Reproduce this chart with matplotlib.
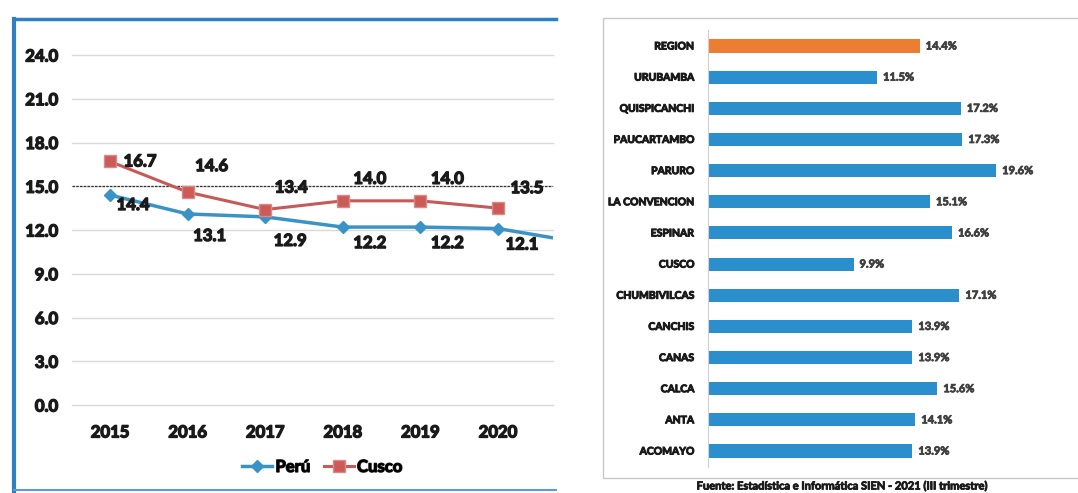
import matplotlib
matplotlib.use("Agg")
import matplotlib.pyplot as plt
import matplotlib.patheffects as pe
from matplotlib.lines import Line2D
from matplotlib.patches import Rectangle

plt.rcParams['font.family'] = ['Lato', 'DejaVu Sans']

# left panel: anemia / desnutricion series
years = [2015, 2016, 2017, 2018, 2019, 2020, 2021]
peru = [14.4, 13.1, 12.9, 12.2, 12.2, 12.1, 11.2]
cusco = [16.7, 14.6, 13.4, 14.0, 14.0, 13.5]
yticks = [0, 3, 6, 9, 12, 15, 18, 21, 24]

# right panel: provinces
provincias = ["REGION", "URUBAMBA", "QUISPICANCHI", "PAUCARTAMBO", "PARURO",
              "LA CONVENCION", "ESPINAR", "CUSCO", "CHUMBIVILCAS", "CANCHIS",
              "CANAS", "CALCA", "ANTA", "ACOMAYO"]
valores = [14.4, 11.5, 17.2, 17.3, 19.6, 15.1, 16.6, 9.9, 17.1, 13.9,
           13.9, 15.6, 14.1, 13.9]
fuente = "Fuente: Estadística e Informática SIEN - 2021 (III trimestre)"

W, H = 1078, 493
fig = plt.figure(figsize=(W/100, H/100), dpi=100)
fig.patch.set_facecolor('white')
WT = 'bold'

def fx(px):
	return px / W

def fy(py):
	return 1 - py / H

def heavy(txt, w=0.7, c='#1a1a1a'):
	# the scan makes every text look very heavy
	txt.set_path_effects([pe.withStroke(linewidth=w, foreground=c)])

# ---------------- left line chart ----------------
ax = fig.add_axes([fx(72), fy(405), fx(553) - fx(72), fy(55) - fy(405)])
ax.set_xlim(2014.51, 2020.71)
ax.set_ylim(0, 24)
for t in yticks:
	ax.axhline(t, color='#d9d9d9', lw=1, zorder=0, clip_on=False)
ax.axhline(15, color='#333333', lw=0.9, ls=(0, (2, 1)), zorder=1)

blue = '#3a93c6'
red = '#c55a57'
ax.plot(years, peru, color=blue, lw=2.5, marker='D', ms=6, mfc=blue, mec=blue,
	label='Perú', zorder=3)
ax.plot(years[:len(cusco)], cusco, color=red, lw=2.2, marker='s', ms=9,
	mfc='#cc5a57', mec='#d98a87', label='Cusco', zorder=4)

peru_off = [(23, -10), (22, -22), (25, -24), (27, -16), (27, -16), (24, -16)]
cusco_off = [(30, 0), (24, 26), (26, 22), (27, 22), (27, 22), (29, 20)]
lab = dict(textcoords='offset pixels', ha='center', va='center',
	fontsize=12, fontweight=WT, color='#1a1a1a', zorder=5)
for i in range(6):
	heavy(ax.annotate("%.1f" % peru[i], (years[i], peru[i]), xytext=peru_off[i], **lab), 1.0)
for i, v in enumerate(cusco):
	heavy(ax.annotate("%.1f" % v, (years[i], v), xytext=cusco_off[i], **lab), 1.0)

ax.set_yticks(yticks)
ax.set_yticklabels(["%.1f" % t for t in yticks], fontsize=12, fontweight=WT)
ax.set_xticks(years[:6])
ax.set_xticklabels([str(y) for y in years[:6]], fontsize=12, fontweight=WT)
ax.tick_params(axis='y', length=0, pad=10, colors='#1a1a1a')
ax.tick_params(axis='x', length=0, pad=14, colors='#1a1a1a')
for t in ax.get_xticklabels() + ax.get_yticklabels():
	heavy(t, 1.0)
for s in ax.spines.values():
	s.set_visible(False)
leg = ax.legend(loc='center', bbox_to_anchor=(0.52, -0.177), ncol=2, frameon=False,
	handlelength=1.8, columnspacing=0.8, handletextpad=0.2,
	prop={'weight': WT, 'size': 12})
for t in leg.get_texts():
	heavy(t, 1.0)

# panel border (blue)
fig.add_artist(Line2D([fx(14), fx(556)], [fy(19), fy(19)], color='#2f80c2', lw=2.5))
fig.add_artist(Line2D([fx(14), fx(14)], [fy(19), fy(493)], color='#2f80c2', lw=3))
fig.add_artist(Line2D([fx(14), fx(556)], [fy(490), fy(490)], color='#5d9bd0', lw=1.5))

# ---------------- right bar chart ----------------
fig.add_artist(Rectangle((fx(603), fy(478)), fx(1080) - fx(603), fy(18) - fy(478),
	fill=False, ec='#c8c8c8', lw=1))
bx = fig.add_axes([fx(708), fy(466.6), fx(1075.5) - fx(708), fy(30.4) - fy(466.6)])
pos = list(range(len(provincias)))
colors = ['#ed7d31'] + ['#2b8fcd'] * (len(provincias) - 1)
bx.barh(pos, valores, height=0.42, color=colors)
bx.set_ylim(len(provincias) - 0.5, -0.5)
bx.set_xlim(0, 25)
for i, v in enumerate(valores):
	heavy(bx.annotate("%.1f%%" % v, (v, i), xytext=(6, 0), textcoords='offset pixels',
		ha='left', va='center', fontsize=8, fontweight=WT, color='#404040'),
		0.6, '#404040')
bx.set_yticks(pos)
bx.set_yticklabels(provincias, fontsize=7.5, fontweight=WT, color='#1a1a1a')
for t in bx.get_yticklabels():
	heavy(t, 0.7)
bx.set_xticks([])
bx.tick_params(axis='y', length=0, pad=10)
for s in ['top', 'right', 'bottom']:
	bx.spines[s].set_visible(False)
bx.spines['left'].set_color('#d0d0d0')

heavy(fig.text(fx(843), fy(486), fuente, ha='center', va='center', fontsize=8,
	fontweight=WT, color='#1a1a1a'), 0.6)

fig.savefig('out.png', dpi=100)
